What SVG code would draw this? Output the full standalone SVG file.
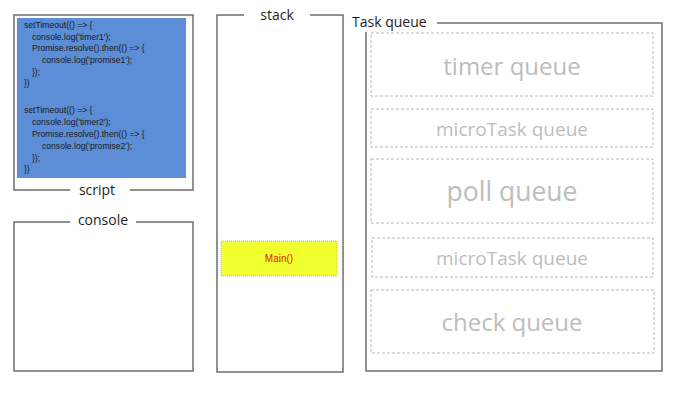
<svg xmlns="http://www.w3.org/2000/svg" width="688" height="402" viewBox="0 0 688 402">
<style>
.frame{fill:none;stroke:#6e6e6e;stroke-width:1.5}
.lbl{font-family:"Open Sans","Liberation Sans",sans-serif;font-size:14px;fill:#1e1e1e;text-anchor:middle}
.code{font-family:"Liberation Sans",sans-serif;font-size:8.6px;fill:#1a1a1a}
.q{fill:none;stroke:#b8b8b8;stroke-width:1;stroke-dasharray:3,2}
.qt{font-family:"Open Sans","Liberation Sans",sans-serif;fill:#bdbdbd;text-anchor:middle}
</style>
<rect width="688" height="402" fill="#ffffff"/>
<g id="script">
<path class="frame" d="M70,190 H14 V15 H193 V190 H130"/>
<rect x="17" y="18" width="169" height="160" fill="#5b8ed6"/>
<text class="code" x="24" y="28">setTimeout(() =&gt; {</text>
<text class="code" x="32" y="39.7">console.log('timer1');</text>
<text class="code" x="32" y="51.3">Promise.resolve().then(() =&gt; {</text>
<text class="code" x="42" y="63">console.log('promise1');</text>
<text class="code" x="32" y="74.7">});</text>
<text class="code" x="24" y="86.3">})</text>
<text class="code" x="24" y="113">setTimeout(() =&gt; {</text>
<text class="code" x="32" y="125">console.log('timer2');</text>
<text class="code" x="32" y="137">Promise.resolve().then(() =&gt; {</text>
<text class="code" x="42" y="149">console.log('promise2');</text>
<text class="code" x="32" y="161">});</text>
<text class="code" x="24" y="172">})</text>
<text class="lbl" x="97" y="195">script</text>
</g>
<g id="console">
<path class="frame" d="M70,222 H14 V371 H193 V222 H136"/>
<text class="lbl" x="103" y="225">console</text>
</g>
<g id="stack">
<path class="frame" d="M244,15 H217 V372 H343 V15 H310"/>
<text class="lbl" x="277" y="20">stack</text>
</g>
<g id="main">
<rect x="221" y="241" width="116" height="35" fill="#f2ff2e" stroke="#9ab" stroke-width="0.8" stroke-dasharray="1,1"/>
<text x="279" y="262" font-family="Liberation Sans,sans-serif" font-size="10px" fill="#e8201c" text-anchor="middle">Main()</text>
</g>
<g id="taskqueue">
<path class="frame" d="M437,23 H662 V371 H366 V32"/>
<text class="lbl" x="352" y="27" style="text-anchor:start">Task queue</text>
</g>
<g id="timer-queue">
<rect class="q" x="371" y="33" width="282" height="63"/>
<text class="qt" x="512" y="75" font-size="24px">timer queue</text>
</g>
<g id="microtask-queue-1">
<rect class="q" x="371" y="109" width="282" height="38"/>
<text class="qt" x="512" y="136" font-size="19px">microTask queue</text>
</g>
<g id="poll-queue">
<rect class="q" x="371" y="159" width="282" height="64"/>
<text class="qt" x="512" y="201" font-size="26.5px">poll queue</text>
</g>
<g id="microtask-queue-2">
<rect class="q" x="372" y="238" width="281" height="39"/>
<text class="qt" x="512" y="265" font-size="19px">microTask queue</text>
</g>
<g id="check-queue">
<rect class="q" x="371" y="290" width="283" height="63"/>
<text class="qt" x="512" y="331" font-size="24px">check queue</text>
</g>
<g id="connectors"></g>
</svg>
